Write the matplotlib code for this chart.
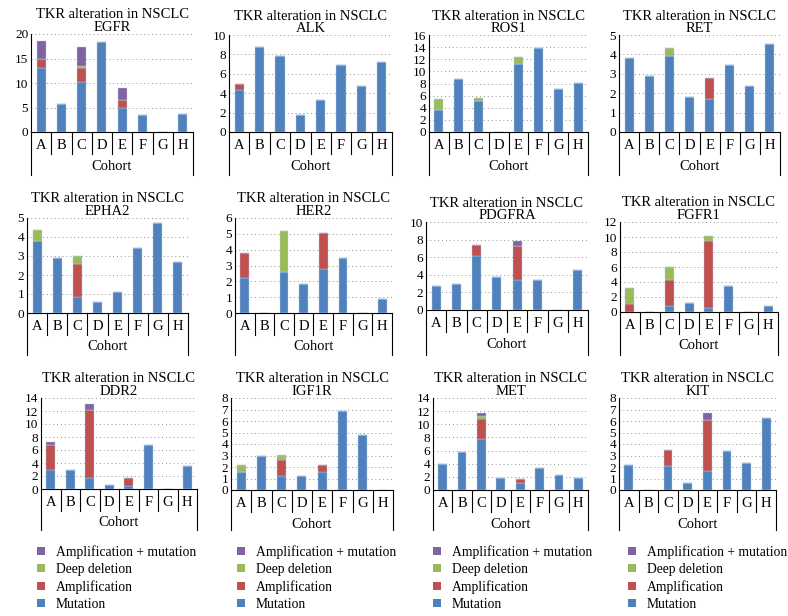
import matplotlib
matplotlib.use("Agg")
import matplotlib.pyplot as plt
from matplotlib.patches import Patch

plt.rcParams['font.family'] = ['Liberation Serif', 'DejaVu Serif']

cohorts = ['A', 'B', 'C', 'D', 'E', 'F', 'G', 'H']
genes = ['EGFR', 'ALK', 'ROS1', 'RET', 'EPHA2', 'HER2', 'PDGFRA', 'FGFR1',
         'DDR2', 'IGF1R', 'MET', 'KIT']

# stacked values per gene: mutation, amplification, deep deletion, amplification + mutation
mutation = {
    'EGFR':   [13.0, 5.8, 10.3, 18.3, 5.0, 3.4, 0, 3.6],
    'ALK':    [4.3, 8.8, 7.8, 1.8, 3.3, 6.9, 4.7, 7.2],
    'ROS1':   [3.7, 8.8, 5.1, 0, 11.2, 13.8, 7.1, 8.1],
    'RET':    [3.8, 2.9, 3.9, 1.8, 1.7, 3.45, 2.35, 4.55],
    'EPHA2':  [3.8, 2.9, 0.85, 0.6, 1.1, 3.4, 4.75, 2.7],
    'HER2':   [2.2, 0, 2.6, 1.85, 2.8, 3.45, 0, 0.9],
    'PDGFRA': [2.7, 2.9, 6.1, 3.7, 3.4, 3.4, 0, 4.5],
    'FGFR1':  [0, 0, 0.8, 1.15, 0.5, 3.4, 0, 0.85],
    'DDR2':   [2.9, 2.9, 1.7, 0.6, 0.5, 6.8, 0, 3.6],
    'IGF1R':  [1.6, 2.95, 1.25, 1.2, 1.6, 6.9, 4.75, 0],
    'MET':    [3.9, 5.8, 7.7, 1.8, 1.0, 3.4, 2.35, 1.8],
    'KIT':    [2.15, 0, 2.1, 0.6, 1.65, 3.4, 2.35, 6.3],
}
amplification = {
    'EGFR':   [1.8, 0, 2.7, 0, 1.6, 0, 0, 0],
    'ALK':    [0.6, 0, 0, 0, 0, 0, 0, 0],
    'ROS1':   [0, 0, 0, 0, 0, 0, 0, 0],
    'RET':    [0, 0, 0, 0, 1.1, 0, 0, 0],
    'EPHA2':  [0, 0, 1.75, 0, 0, 0, 0, 0],
    'HER2':   [1.6, 0, 0, 0, 2.25, 0, 0, 0],
    'PDGFRA': [0, 0, 1.3, 0, 3.9, 0, 0, 0],
    'FGFR1':  [1.0, 0, 3.5, 0, 9.0, 0, 0, 0],
    'DDR2':   [3.9, 0, 10.4, 0, 1.15, 0, 0, 0],
    'IGF1R':  [0, 0, 1.35, 0, 0.6, 0, 0, 0],
    'MET':    [0, 0, 3.1, 0, 0.65, 0, 0, 0],
    'KIT':    [0, 0, 1.35, 0, 4.45, 0, 0, 0],
}
deep_deletion = {
    'EGFR':   [0, 0, 0.4, 0, 0, 0, 0, 0],
    'ALK':    [0, 0, 0, 0, 0, 0, 0, 0],
    'ROS1':   [1.7, 0, 0.5, 0, 1.1, 0, 0, 0],
    'RET':    [0, 0, 0.45, 0, 0, 0, 0, 0],
    'EPHA2':  [0.55, 0, 0.4, 0, 0, 0, 0, 0],
    'HER2':   [0, 0, 2.6, 0, 0, 0, 0, 0],
    'PDGFRA': [0, 0, 0, 0, 0, 0, 0, 0],
    'FGFR1':  [2.2, 0, 1.75, 0, 0.6, 0, 0, 0],
    'DDR2':   [0, 0, 0, 0, 0, 0, 0, 0],
    'IGF1R':  [0.55, 0, 0.4, 0, 0, 0, 0, 0],
    'MET':    [0, 0, 0.5, 0, 0, 0, 0, 0],
    'KIT':    [0, 0, 0, 0, 0, 0, 0, 0],
}
amp_mutation = {
    'EGFR':   [3.7, 0, 3.9, 0, 2.3, 0, 0, 0],
    'ALK':    [0, 0, 0, 0, 0, 0, 0, 0],
    'ROS1':   [0, 0, 0, 0, 0, 0, 0, 0],
    'RET':    [0, 0, 0, 0, 0, 0, 0, 0],
    'EPHA2':  [0, 0, 0, 0, 0, 0, 0, 0],
    'HER2':   [0, 0, 0, 0, 0, 0, 0, 0],
    'PDGFRA': [0, 0, 0, 0, 0.55, 0, 0, 0],
    'FGFR1':  [0, 0, 0, 0, 0, 0, 0, 0],
    'DDR2':   [0.5, 0, 0.9, 0, 0, 0, 0, 0],
    'IGF1R':  [0, 0, 0, 0, 0, 0, 0, 0],
    'MET':    [0, 0, 0.4, 0, 0, 0, 0, 0],
    'KIT':    [0, 0, 0, 0, 0.6, 0, 0, 0],
}
y_max = {'EGFR': 20, 'ALK': 10, 'ROS1': 16, 'RET': 5, 'EPHA2': 5, 'HER2': 6,
         'PDGFRA': 10, 'FGFR1': 12, 'DDR2': 14, 'IGF1R': 8, 'MET': 14, 'KIT': 8}
y_step = {'EGFR': 5, 'ALK': 2, 'ROS1': 2, 'RET': 1, 'EPHA2': 1, 'HER2': 1,
          'PDGFRA': 2, 'FGFR1': 2, 'DDR2': 2, 'IGF1R': 1, 'MET': 2, 'KIT': 1}

series_names = ['Mutation', 'Amplification', 'Deep deletion', 'Amplification + mutation']
colors = ['#4F81BD', '#C0504D', '#9BBB59', '#8064A2']

W, H = 788, 616
fig = plt.figure(figsize=(W / 100, H / 100), dpi=100)

# axes boxes in pixels: left, right, top, bottom, bottom of the cohort box
boxes = [
    (31, 193, 34, 132, 175), (229, 392, 35, 132, 175), (429, 588, 35, 132, 175), (619, 780, 35, 132, 175),
    (27, 188, 218, 313, 355), (235, 392, 218, 313, 355), (426, 588, 222, 310, 355), (620, 778, 222, 312, 355),
    (41, 197, 398, 489, 530), (231, 393, 398, 490, 530), (433, 588, 398, 490, 530), (619, 776, 398, 490, 530),
]

x = list(range(len(cohorts)))
for gene, (x0, x1, yt, yb, ye) in zip(genes, boxes):
    ax = fig.add_axes([x0 / W, 1 - yb / H, (x1 - x0) / W, (yb - yt) / H])
    h = yb - yt
    bottom = [0] * len(cohorts)
    for vals, c in zip([mutation[gene], amplification[gene], deep_deletion[gene], amp_mutation[gene]], colors):
        ax.bar(x, vals, width=0.45, bottom=bottom, color=c, edgecolor='#B9D1EA', linewidth=0.3, zorder=3)
        bottom = [b + v for b, v in zip(bottom, vals)]
    ax.set_xlim(-0.5, 7.5)
    ax.set_ylim(0, y_max[gene])
    ax.set_yticks(range(0, y_max[gene] + 1, y_step[gene]))
    ax.yaxis.grid(True, linestyle=(0, (1, 3)), color='#909090', linewidth=0.7)
    ax.set_axisbelow(True)
    ax.set_xticks(x)
    ax.set_xticklabels(cohorts, fontsize=10.5)
    ax.tick_params(axis='x', length=0, pad=5)
    ax.tick_params(axis='y', length=0, labelsize=9.5, pad=2)
    ax.spines['top'].set_visible(False)
    ax.spines['right'].set_visible(False)
    ax.spines['left'].set_color('black')
    ax.spines['bottom'].set_color('black')
    tr = ax.get_xaxis_transform()
    # category separators and outer box of the cohort axis
    sep = -22 / h
    for s in [i + 0.5 for i in range(7)]:
        ax.plot([s, s], [0, sep], color='black', lw=0.8, transform=tr, clip_on=False)
    for s in [-0.5, 7.5]:
        ax.plot([s, s], [0, -(ye - yb) / h], color='black', lw=0.8, transform=tr, clip_on=False)
    ax.text(3.5, -34 / h, 'Cohort', transform=tr, ha='center', va='center', fontsize=10.5)
    ax.set_title('TKR alteration in NSCLC\n' + gene, fontsize=10.5, pad=1, linespacing=0.95)

handles = [Patch(facecolor=c, edgecolor='none') for c in colors][::-1]
labels = series_names[::-1]
for lx in [37, 237, 433, 628]:
    fig.legend(handles, labels, loc='upper left', bbox_to_anchor=(lx / W, 1 - 545 / H),
               frameon=False, fontsize=9.8, handlelength=0.6, handleheight=0.6,
               handletextpad=0.8, labelspacing=0.3, borderaxespad=0, borderpad=0)

fig.savefig('out.png', dpi=100)
